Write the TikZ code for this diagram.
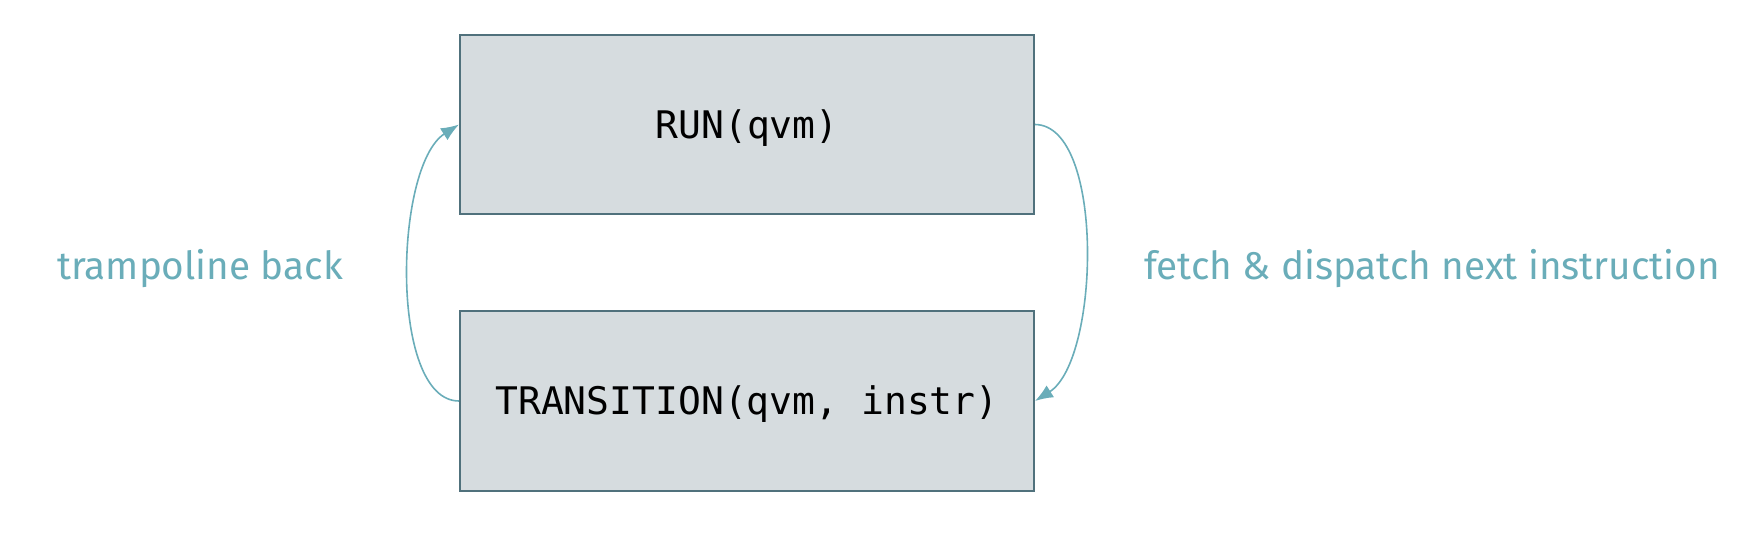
\documentclass[tikz,border=0pt]{standalone}
\usepackage{fontspec}
\setmainfont{Fira Sans}
\newfontfamily\boxmono{DejaVu Sans Mono}
\usetikzlibrary{arrows.meta}
\definecolor{boxfill}{HTML}{D6DCDF}
\definecolor{boxline}{HTML}{50717C}
\definecolor{teal}{HTML}{6AADB9}
\begin{document}
\begin{tikzpicture}[x=1pt,y=-1pt,
  statebox/.style={draw=boxline,line width=2pt,fill=boxfill,minimum width=574pt,minimum height=179pt,inner sep=0pt,
    text height=27.5pt,text depth=0pt,
    font=\boxmono\fontsize{38}{40}\selectfont,text=black},
  loopline/.style={draw=teal,line width=1.6pt,-{Latex[length=18pt,width=14pt]}},
  lbl/.style={text=teal,font=\fontsize{38.7}{42}\selectfont,inner sep=0pt,anchor=center}]
\useasboundingbox (0,0) rectangle (1758,534);
\node[statebox] (run) at (747,124.5) {RUN(qvm)};
\node[statebox] (tr) at (747,401) {TRANSITION(qvm, instr)};
\draw[loopline] (run.east) .. controls (1105,125) and (1100,360) .. (tr.east);
\draw[loopline] (tr.west) .. controls (389,401) and (394,166) .. (run.west);
\node[lbl] (lb) at (200,269) {trampoline back};
\node[lbl] (rb) at (1432,269) {fetch \& dispatch next instruction};
\end{tikzpicture}
\end{document}
